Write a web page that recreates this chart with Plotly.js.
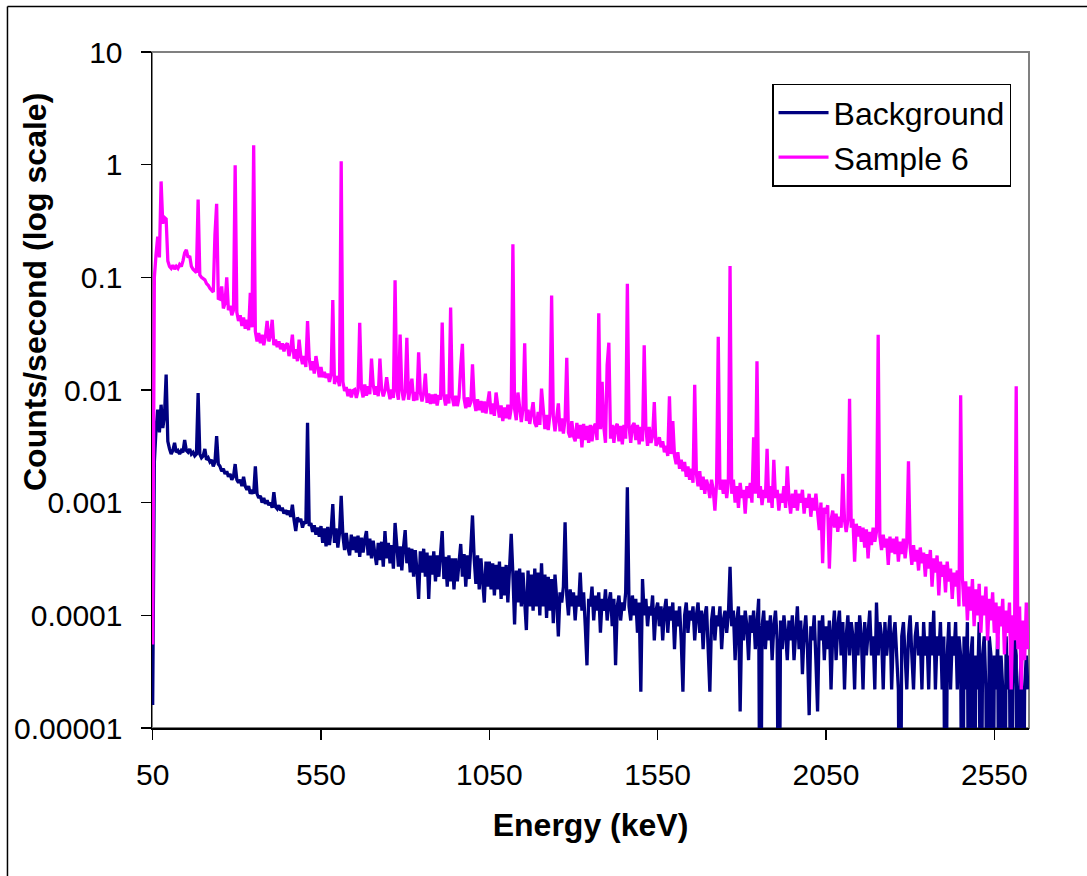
<!DOCTYPE html>
<html>
<head>
<meta charset="utf-8">
<script src="https://cdn.plot.ly/plotly-3.0.1.min.js"></script>
<style>
html,body{margin:0;padding:0;background:#fff;}
#chart{width:1087px;height:876px;}
</style>
</head>
<body>
<div id="chart"></div>
<script>
// Energy channels (keV)
const energyKeV = [
50,55,60,65,70,75,80,85,90,95,100,105,110,115,120,125,130,135,140,145,
150,155,160,165,170,175,180,185,190,195,200,205,210,215,220,225,230,235,240,245,
250,255,260,265,270,275,280,285,290,295,300,305,310,315,320,325,330,335,340,345,
350,355,360,365,370,375,380,385,390,395,400,405,410,415,420,425,430,435,440,445,
450,455,460,465,470,475,480,485,490,495,500,505,510,515,520,525,530,535,540,545,
550,555,560,565,570,575,580,585,590,595,600,605,610,615,620,625,630,635,640,645,
650,655,660,665,670,675,680,685,690,695,700,705,710,715,720,725,730,735,740,745,
750,755,760,765,770,775,780,785,790,795,800,805,810,815,820,825,830,835,840,845,
850,855,860,865,870,875,880,885,890,895,900,905,910,915,920,925,930,935,940,945,
950,955,960,965,970,975,980,985,990,995,1000,1005,1010,1015,1020,1025,1030,1035,1040,1045,
1050,1055,1060,1065,1070,1075,1080,1085,1090,1095,1100,1105,1110,1115,1120,1125,1130,1135,1140,1145,
1150,1155,1160,1165,1170,1175,1180,1185,1190,1195,1200,1205,1210,1215,1220,1225,1230,1235,1240,1245,
1250,1255,1260,1265,1270,1275,1280,1285,1290,1295,1300,1305,1310,1315,1320,1325,1330,1335,1340,1345,
1350,1355,1360,1365,1370,1375,1380,1385,1390,1395,1400,1405,1410,1415,1420,1425,1430,1435,1440,1445,
1450,1455,1460,1465,1470,1475,1480,1485,1490,1495,1500,1505,1510,1515,1520,1525,1530,1535,1540,1545,
1550,1555,1560,1565,1570,1575,1580,1585,1590,1595,1600,1605,1610,1615,1620,1625,1630,1635,1640,1645,
1650,1655,1660,1665,1670,1675,1680,1685,1690,1695,1700,1705,1710,1715,1720,1725,1730,1735,1740,1745,
1750,1755,1760,1765,1770,1775,1780,1785,1790,1795,1800,1805,1810,1815,1820,1825,1830,1835,1840,1845,
1850,1855,1860,1865,1870,1875,1880,1885,1890,1895,1900,1905,1910,1915,1920,1925,1930,1935,1940,1945,
1950,1955,1960,1965,1970,1975,1980,1985,1990,1995,2000,2005,2010,2015,2020,2025,2030,2035,2040,2045,
2050,2055,2060,2065,2070,2075,2080,2085,2090,2095,2100,2105,2110,2115,2120,2125,2130,2135,2140,2145,
2150,2155,2160,2165,2170,2175,2180,2185,2190,2195,2200,2205,2210,2215,2220,2225,2230,2235,2240,2245,
2250,2255,2260,2265,2270,2275,2280,2285,2290,2295,2300,2305,2310,2315,2320,2325,2330,2335,2340,2345,
2350,2355,2360,2365,2370,2375,2380,2385,2390,2395,2400,2405,2410,2415,2420,2425,2430,2435,2440,2445,
2450,2455,2460,2465,2470,2475,2480,2485,2490,2495,2500,2505,2510,2515,2520,2525,2530,2535,2540,2545,
2550,2555,2560,2565,2570,2575,2580,2585,2590,2595,2600,2605,2610,2615,2620,2625,2630,2635,2640,2645,
2650
];

// Background counts/second (values below 1e-5 = zero-count channels, drawn to the axis floor)
const background = [
1.6e-5,2.3e-3,4.5e-3,6.7e-3,4.2e-3,7.4e-3,4.6e-3,5.8e-3,1.37e-2,3.5e-3,3.0e-3,2.7e-3,2.9e-3,3.4e-3,2.8e-3,2.9e-3,2.7e-3,2.9e-3,2.8e-3,3.6e-3,
2.9e-3,2.8e-3,3.0e-3,2.7e-3,2.8e-3,2.6e-3,2.7e-3,9.4e-3,2.7e-3,2.5e-3,2.6e-3,3.0e-3,2.4e-3,2.5e-3,2.3e-3,2.4e-3,2.1e-3,2.3e-3,3.9e-3,2.2e-3,
2.1e-3,1.9e-3,2.0e-3,1.8e-3,1.9e-3,1.7e-3,1.8e-3,1.6e-3,1.7e-3,2.2e-3,1.6e-3,1.5e-3,1.6e-3,1.4e-3,1.7e-3,1.4e-3,1.3e-3,1.4e-3,1.2e-3,1.3e-3,
1.2e-3,2.1e-3,1.2e-3,1.1e-3,1.15e-3,1.0e-3,1.1e-3,9.8e-4,1.05e-3,9.5e-4,1.0e-3,9.0e-4,1.24e-3,9.2e-4,8.8e-4,9.5e-4,8.5e-4,9.0e-4,8.0e-4,8.6e-4,
7.8e-4,8.5e-4,7.5e-4,9.6e-4,7.0e-4,5.6e-4,7.4e-4,6.8e-4,7.2e-4,6.0e-4,6.8e-4,6.5e-4,5.12e-3,6.2e-4,6.6e-4,5.5e-4,6.3e-4,5.2e-4,6.0e-4,5.0e-4,
6.2e-4,4.4e-4,5.9e-4,4.1e-4,6.1e-4,4.2e-4,5.6e-4,9.7e-4,4.4e-4,5.9e-4,4.0e-4,5.4e-4,1.15e-3,5.1e-4,3.8e-4,5.4e-4,4.0e-4,3.4e-4,5.2e-4,3.8e-4,
5.0e-4,3.6e-4,5.1e-4,3.3e-4,4.9e-4,3.6e-4,4.7e-4,5.6e-4,3.4e-4,4.8e-4,3.2e-4,4.6e-4,3.5e-4,2.8e-4,4.4e-4,3.1e-4,4.5e-4,2.7e-4,5.6e-4,3.2e-4,
4.4e-4,2.9e-4,4.2e-4,2.6e-4,6.6e-4,3.9e-4,2.7e-4,4.1e-4,2.5e-4,4.0e-4,5.7e-4,2.9e-4,4.0e-4,2.4e-4,3.9e-4,2.2e-4,3.8e-4,2.5e-4,1.4e-4,3.7e-4,
2.4e-4,3.9e-4,2.2e-4,3.6e-4,1.4e-4,3.4e-4,2.3e-4,3.7e-4,2.0e-4,3.4e-4,2.2e-4,3.5e-4,5.6e-4,2.1e-4,3.3e-4,1.8e-4,3.4e-4,2.0e-4,3.2e-4,1.7e-4,
3.2e-4,2.0e-4,3.1e-4,4.3e-4,2.2e-4,3.5e-4,1.8e-4,3.4e-4,2.1e-4,3.6e-4,7.7e-4,3.2e-4,1.9e-4,3.4e-4,1.7e-4,3.2e-4,2.0e-4,1.3e-4,3.0e-4,1.8e-4,
3.0e-4,1.7e-4,2.9e-4,1.5e-4,2.8e-4,1.7e-4,3.0e-4,1.4e-4,2.7e-4,1.5e-4,2.8e-4,1.3e-4,2.6e-4,5.3e-4,2.3e-4,8.3e-5,2.5e-4,1.3e-4,2.6e-4,1.2e-4,
2.4e-4,1.3e-4,7.4e-5,2.5e-4,1.2e-4,2.3e-4,1.1e-4,2.6e-4,1.2e-4,2.4e-4,1.0e-4,2.9e-4,1.2e-4,2.3e-4,9.5e-5,2.2e-4,1.1e-4,2.1e-4,8.5e-5,2.3e-4,
1.4e-4,6.5e-5,1.6e-4,1.3e-4,1.8e-4,6.7e-4,1.5e-4,1.0e-4,1.7e-4,1.2e-4,1.6e-4,9.0e-5,1.5e-4,1.2e-4,2.4e-4,1.1e-4,1.6e-4,8.0e-5,3.6e-5,1.4e-4,
1.2e-4,1.8e-4,9.0e-5,1.5e-4,1.1e-4,1.6e-4,7.0e-5,1.4e-4,1.1e-4,1.7e-4,9.0e-5,1.3e-4,1.6e-4,8.0e-5,1.4e-4,3.6e-5,1.2e-4,1.5e-4,9.0e-5,1.3e-4,
1.1e-4,1.6e-4,1.37e-3,1.2e-4,9.0e-5,1.5e-4,1.0e-4,1.4e-4,7.0e-5,1.3e-4,2.1e-5,2.1e-4,1.0e-4,1.4e-4,8.0e-5,1.2e-4,1.0e-4,1.5e-4,6.0e-5,1.1e-4,
1.3e-4,8.0e-5,1.2e-4,6.0e-5,1.1e-4,1.4e-4,7.0e-5,1.2e-4,9.0e-5,1.3e-4,5.0e-5,1.1e-4,8.0e-5,1.2e-4,6.0e-5,2.1e-5,1.0e-4,1.3e-4,7.0e-5,1.1e-4,
9.0e-5,1.2e-4,6.0e-5,1.0e-4,1.3e-4,7.0e-5,1.1e-4,5.0e-5,1.0e-4,1.2e-4,4.0e-5,2.1e-5,9.0e-5,1.2e-4,6.0e-5,1.0e-4,8.0e-5,1.2e-4,5.0e-5,9.0e-5,
1.1e-4,7.0e-5,1.0e-4,2.7e-4,8.0e-5,1.1e-4,4.0e-5,9.0e-5,1.2e-4,1.4e-5,1.0e-4,6.0e-5,1.1e-4,8.0e-5,4.0e-5,1.0e-4,7.0e-5,1.1e-4,5.0e-5,9.0e-5,
1.4e-4,1e-7,8.0e-5,1.1e-4,5.0e-5,9.0e-5,6.0e-5,1.0e-4,4.0e-5,8.0e-5,1.1e-4,6.0e-5,1e-7,9.0e-5,5.0e-5,1.0e-4,7.0e-5,4.0e-5,9.0e-5,6.0e-5,
1.0e-4,4.0e-5,8.0e-5,1.2e-4,5.0e-5,9.0e-5,3.0e-5,7.0e-5,1.0e-4,5.0e-5,1.3e-5,8.0e-5,6.0e-5,1.0e-4,4.0e-5,1.4e-5,9.0e-5,6.0e-5,1.0e-4,4.0e-5,
8.0e-5,5.0e-5,9.0e-5,2.2e-5,7.0e-5,1.1e-4,4.0e-5,8.0e-5,1.1e-4,4.4e-5,8.7e-5,2.2e-5,6.5e-5,1.0e-4,4.4e-5,8.7e-5,6.5e-5,2.2e-5,8.7e-5,4.4e-5,
1.0e-4,6.5e-5,2.2e-5,8.7e-5,4.4e-5,6.5e-5,1.1e-4,4.4e-5,6.5e-5,2.2e-5,1.3e-4,4.4e-5,8.7e-5,6.5e-5,2.2e-5,8.7e-5,4.4e-5,6.5e-5,1.0e-4,2.2e-5,
6.5e-5,8.7e-5,4.4e-5,2.2e-5,1e-7,6.5e-5,8.7e-5,4.4e-5,2.2e-5,6.5e-5,1.0e-4,4.4e-5,2.2e-5,6.5e-5,8.7e-5,4.4e-5,6.5e-5,2.2e-5,8.7e-5,4.4e-5,
6.5e-5,2.2e-5,8.7e-5,4.4e-5,1.1e-4,2.2e-5,6.5e-5,4.4e-5,8.7e-5,2.2e-5,6.5e-5,1e-7,4.4e-5,8.7e-5,2.2e-5,6.5e-5,4.4e-5,8.7e-5,2.2e-5,6.5e-5,
4.4e-5,1e-7,6.5e-5,2.2e-5,8.7e-5,1e-7,4.4e-5,6.5e-5,1e-7,4.4e-5,2.2e-5,8.7e-5,1e-7,4.4e-5,6.5e-5,2.2e-5,1e-7,6.5e-5,4.4e-5,1e-7,
4.4e-5,2.2e-5,6.5e-5,1e-7,4.4e-5,2.2e-5,1e-7,6.5e-5,2.2e-5,4.4e-5,1e-7,2.2e-5,6.5e-5,4.4e-5,1e-7,2.2e-5,4.4e-5,1e-7,2.2e-5,4.4e-5,
2.2e-5
];

// Sample 6 counts/second
const sample6 = [
5.5e-5,0.1,0.16,0.23,0.15,0.71,0.3,0.34,0.33,0.14,0.125,0.12,0.128,0.118,0.125,0.12,0.13,0.125,0.14,0.165,
0.175,0.15,0.155,0.125,0.118,0.115,0.11,0.49,0.105,0.1,0.098,0.095,0.088,0.085,0.08,0.076,0.074,0.24,0.45,0.065,
0.064,0.083,0.053,0.059,0.1,0.051,0.056,0.046,0.051,0.99,0.049,0.041,0.046,0.037,0.044,0.035,0.042,0.034,0.073,0.036,
1.49,0.033,0.027,0.032,0.026,0.031,0.025,0.03,0.041,0.027,0.03,0.042,0.025,0.028,0.024,0.027,0.023,0.026,0.022,0.025,
0.026,0.02,0.023,0.031,0.019,0.023,0.018,0.028,0.02,0.017,0.02,0.016,0.041,0.019,0.015,0.018,0.014,0.02,0.016,0.013,
0.016,0.013,0.0145,0.0128,0.014,0.0118,0.0136,0.063,0.0113,0.0132,0.0125,0.0108,1.07,0.0118,0.0098,0.0106,0.0088,0.0102,0.0086,0.0099,
0.0101,0.0085,0.0099,0.0395,0.0104,0.0086,0.0112,0.0089,0.0108,0.0092,0.019,0.0111,0.0091,0.0108,0.0088,0.019,0.0101,0.0088,0.0099,0.013,
0.0099,0.0083,0.0101,0.0085,0.094,0.0098,0.0082,0.031,0.0101,0.0081,0.0097,0.029,0.0082,0.0098,0.0126,0.008,0.0096,0.0081,0.0216,0.0095,
0.0079,0.0094,0.014,0.0077,0.0093,0.0075,0.0091,0.0076,0.0092,0.0073,0.009,0.0082,0.0397,0.0089,0.0073,0.0091,0.0076,0.054,0.0086,0.0072,
0.0089,0.0072,0.0086,0.0163,0.0257,0.0084,0.0069,0.0086,0.0071,0.0078,0.0169,0.0081,0.0065,0.0083,0.0066,0.008,0.0063,0.0079,0.0062,0.0077,
0.0097,0.0061,0.0076,0.0059,0.0095,0.0073,0.0057,0.0073,0.0053,0.007,0.0056,0.0074,0.0055,0.0069,0.197,0.0068,0.0054,0.0095,0.0066,0.0052,
0.0068,0.026,0.0053,0.0067,0.005,0.0065,0.0078,0.0051,0.0047,0.0064,0.0049,0.0103,0.0062,0.0045,0.006,0.0044,0.0061,0.069,0.0058,0.0043,
0.0057,0.0076,0.0043,0.0056,0.0041,0.0055,0.0193,0.0042,0.0038,0.0053,0.0039,0.0035,0.0051,0.0037,0.0049,0.0031,0.005,0.0036,0.0048,0.0034,
0.0049,0.0035,0.0047,0.005,0.0036,0.048,0.0045,0.0118,0.0047,0.0034,0.0166,0.0263,0.0037,0.0049,0.0034,0.0047,0.005,0.0035,0.0048,0.0033,
0.0049,0.0037,0.0877,0.0047,0.0034,0.0048,0.0051,0.0036,0.0049,0.0033,0.0047,0.0035,0.0249,0.0046,0.0032,0.0047,0.0034,0.0039,0.0078,0.0032,
0.0034,0.0038,0.0031,0.0035,0.0028,0.0032,0.0026,0.0088,0.0027,0.0053,0.0026,0.0022,0.0028,0.002,0.0024,0.0019,0.0023,0.0017,0.0021,0.0016,
0.002,0.0015,0.0111,0.0018,0.0014,0.0019,0.0013,0.0017,0.0012,0.0016,0.0014,0.0011,0.0016,0.0013,0.00085,0.0015,0.0297,0.0013,0.0016,0.0012,
0.0016,0.0011,0.0015,0.126,0.0012,0.0016,0.001,0.0014,0.0009,0.0015,0.0011,0.0013,0.0008,0.0014,0.0011,0.0015,0.001,0.0038,0.0012,0.018,
0.0011,0.0014,0.00095,0.0013,0.0011,0.003,0.001,0.0014,0.0009,0.0024,0.0011,0.0013,0.00085,0.0012,0.001,0.0014,0.0009,0.0021,0.0011,0.0008,
0.0012,0.0009,0.0013,0.00085,0.0012,0.001,0.0013,0.0008,0.0011,0.0009,0.0012,0.00075,0.0011,0.00085,0.0012,0.0008,0.00057,0.001,0.00029,0.0009,
0.0008,0.00095,0.00026,0.0007,0.00085,0.0006,0.0008,0.00055,0.00075,0.0006,0.0018,0.0007,0.00055,0.0007,0.00835,0.0006,0.00072,0.0003,0.00065,0.0005,
0.00062,0.00045,0.0006,0.0004,0.00058,0.00032,0.00055,0.00042,0.0006,0.00045,0.00055,0.031,0.0005,0.00038,0.00052,0.0004,0.00048,0.00028,0.0005,0.00036,
0.00048,0.00035,0.0005,0.0003,0.00045,0.00035,0.00048,0.00032,0.00044,0.00233,0.0004,0.00028,0.00042,0.0003,0.00038,0.00025,0.0004,0.00029,0.00036,0.00022,
0.00035,0.00026,0.00038,0.00018,0.00032,0.00024,0.00034,0.00015,0.0003,0.00022,0.00028,0.00016,0.0003,0.0002,0.00026,0.00014,0.00024,0.00018,0.00025,0.00012,
0.009,0.00022,0.00012,0.0002,0.00009,0.00018,0.00011,0.00021,0.00008,0.00017,0.0001,0.00019,0.00007,0.00015,0.0001,0.00018,0.00006,0.00014,0.00009,0.00016,
0.00007,0.00013,0.00005,0.00012,0.00008,0.00014,0.000045,0.00011,0.00007,0.00013,0.000022,0.0001,0.00006,0.0108,0.00005,0.00012,0.000022,0.00009,0.00004,0.00013,
0.00005
];

const seriesNames = ['Background', 'Sample 6'];
const seriesColors = ['#000080', '#FF00FF'];
const xTickVals = [50, 550, 1050, 1550, 2050, 2550];
const yTickVals = [0.00001, 0.0001, 0.001, 0.01, 0.1, 1, 10];
const yTickText = ['0.00001', '0.0001', '0.001', '0.01', '0.1', '1', '10'];
const xTitle = 'Energy (keV)';
const yTitle = 'Counts/second (log scale)';

const FONT = 'Liberation Sans, Arial, Helvetica, sans-serif';

const traces = [background, sample6].map((vals, i) => ({
  type: 'scatter',
  mode: 'lines',
  x: energyKeV,
  y: vals,
  name: seriesNames[i],
  legendgroup: 'g' + i,
  line: {color: seriesColors[i], width: 3.3},
  hoverinfo: 'x+y+name'
}));

const layout = {
  width: 1087,
  height: 876,
  margin: {l: 152, r: 58, t: 52, b: 148, pad: 0},
  paper_bgcolor: '#ffffff',
  plot_bgcolor: '#ffffff',
  font: {family: FONT, size: 30, color: '#000'},
  showlegend: true,
  legend: {
    x: 0.707, y: 0.953, xanchor: 'left', yanchor: 'top',
    bgcolor: '#ffffff', bordercolor: '#000000', borderwidth: 1.5,
    font: {family: FONT, size: 32, color: '#000'},
    tracegroupgap: 0,
    itemwidth: 50
  },
  xaxis: {
    range: [48, 2653],
    tickvals: xTickVals,
    ticktext: xTickVals.map(String),
    ticks: 'outside', ticklen: 10, tickwidth: 1.3, tickcolor: '#000',
    showline: true, linecolor: '#000', linewidth: 1.5,
    showgrid: false, zeroline: false,
    tickfont: {family: FONT, size: 30, color: '#000'},
    ticklabelstandoff: 9,
    title: {text: xTitle, font: {family: FONT, size: 32, color: '#000', weight: 'bold'}, standoff: 24}
  },
  yaxis: {
    type: 'log',
    range: [-5, 1],
    tickvals: yTickVals,
    ticktext: yTickText,
    ticks: 'outside', ticklen: 10, tickwidth: 1.3, tickcolor: '#000',
    showline: true, linecolor: '#000', linewidth: 1.5,
    showgrid: false, zeroline: false,
    tickfont: {family: FONT, size: 30, color: '#000'},
    ticklabelstandoff: 12
  },
  shapes: [
    {type: 'rect', xref: 'paper', yref: 'paper', x0: 0, x1: 1, y0: 0, y1: 1,
     line: {color: '#808080', width: 2}, layer: 'below'},
    {type: 'line', xref: 'paper', yref: 'paper', x0: -0.1648, x1: 1.08, y0: 1.0673, y1: 1.0673,
     line: {color: '#000', width: 1.5}},
    {type: 'line', xref: 'paper', yref: 'paper', x0: -0.1648, x1: -0.1648, y0: 1.0673, y1: -0.23,
     line: {color: '#000', width: 1.5}}
  ],
  annotations: [
    {text: yTitle, textangle: -90, xref: 'paper', yref: 'paper',
     x: -0.1334, y: 0.645, xanchor: 'center', yanchor: 'middle', showarrow: false,
     font: {family: FONT, size: 32, color: '#000', weight: 'bold'}}
  ]
};

Plotly.newPlot('chart', traces, layout, {displayModeBar: false, staticPlot: true});
</script>
</body>
</html>
